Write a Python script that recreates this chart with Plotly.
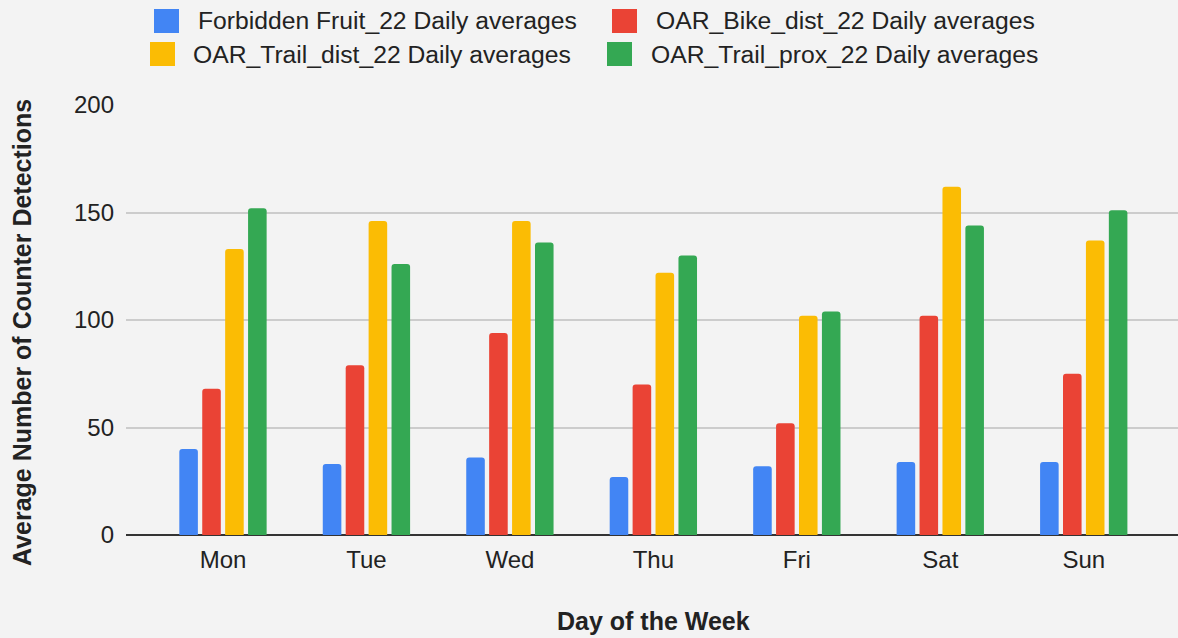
import plotly.graph_objects as go

days = ["Mon", "Tue", "Wed", "Thu", "Fri", "Sat", "Sun"]
forbidden_fruit = [40, 33, 36, 27, 32, 34, 34]
oar_bike_dist = [68, 79, 94, 70, 52, 102, 75]
oar_trail_dist = [133, 146, 146, 122, 102, 162, 137]
oar_trail_prox = [152, 126, 136, 130, 104, 144, 151]
y_ticks = [0, 50, 100, 150, 200]

names = ["Forbidden Fruit_22 Daily averages", "OAR_Bike_dist_22 Daily averages",
         "OAR_Trail_dist_22 Daily averages", "OAR_Trail_prox_22 Daily averages"]
values = [forbidden_fruit, oar_bike_dist, oar_trail_dist, oar_trail_prox]
colors = ["#4285f4", "#ea4335", "#fbbc04", "#34a853"]

W, H = 1178, 638
L, R, T, B = 126, 0, 105, 103
pw, ph = W - L - R, H - T - B


def px(x):
    return (x - L) / pw


def py(y):
    return (H - B - y) / ph


fig = go.Figure()
for name, vals, color in zip(names, values, colors):
    fig.add_trace(go.Bar(x=days, y=vals, name=name, showlegend=False,
                         marker=dict(color=color, line=dict(width=0))))

font = "Liberation Sans, Arial, sans-serif"
txt = "#222222"

# custom legend (box pixel positions: left, top; text start, text centre)
legend_items = [
    (154, 9, 196, 21),
    (612, 9, 654, 21),
    (150, 42, 191, 54.5),
    (607, 42, 649, 54.5),
]
shapes = []
annotations = []
for (bx, by, tx, ty), name, color in zip(legend_items, names, colors):
    shapes.append(dict(type="rect", xref="paper", yref="paper",
                       x0=px(bx), x1=px(bx + 25), y0=py(by), y1=py(by + 24),
                       fillcolor=color, line=dict(width=0), layer="above"))
    annotations.append(dict(text=name, xref="paper", yref="paper", x=px(tx), y=py(ty),
                            xanchor="left", yanchor="middle", showarrow=False,
                            font=dict(size=24.7, color=txt)))

annotations.append(dict(text="<b>Average Number of Counter Detections</b>", xref="paper", yref="paper",
                        x=px(22), y=py(333), showarrow=False, textangle=-90,
                        xanchor="center", yanchor="middle", font=dict(size=25, color=txt)))
annotations.append(dict(text="<b>Day of the Week</b>", xref="paper", yref="paper",
                        x=px(653), y=py(621), showarrow=False, xanchor="center", yanchor="middle",
                        font=dict(size=25, color=txt)))

fig.update_layout(
    width=W, height=H,
    paper_bgcolor="#f3f3f3", plot_bgcolor="#f3f3f3",
    margin=dict(l=L, r=R, t=T, b=B),
    barmode="group", bargap=0.361, bargroupgap=0.19, barcornerradius=3,
    font=dict(family=font, size=24, color=txt),
    showlegend=False,
    xaxis=dict(range=[-0.676, 6.657], showgrid=False, ticks="", ticklabelstandoff=8,
               tickfont=dict(size=24, color=txt), showline=False, zeroline=False, fixedrange=True),
    yaxis=dict(range=[0, 200], tickvals=y_ticks, showgrid=True, gridcolor="#cccccc", gridwidth=2,
               zeroline=True, zerolinecolor="#333333", zerolinewidth=2,
               ticks="", ticklabelstandoff=11, tickfont=dict(size=24, color=txt)),
    shapes=shapes,
    annotations=annotations,
)

fig.write_html("out.html", config={"displayModeBar": False},
               post_script="document.body.style.margin='0';")
